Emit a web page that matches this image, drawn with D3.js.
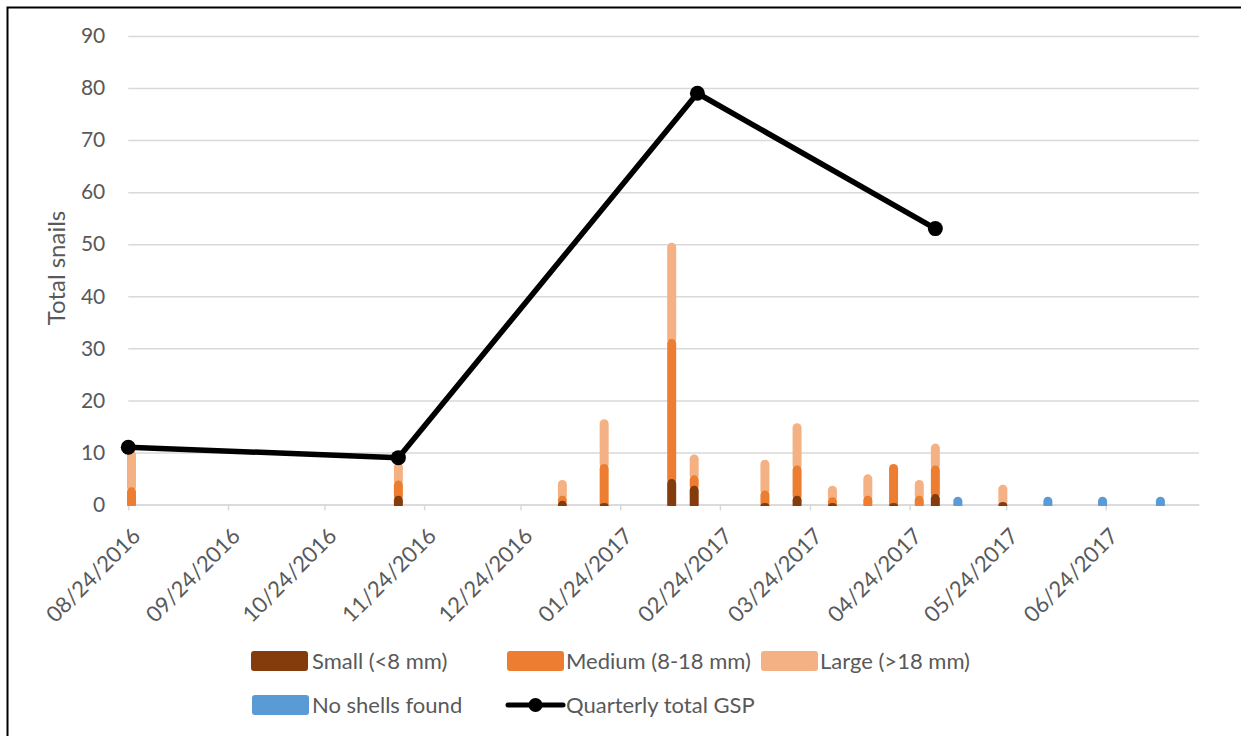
<!DOCTYPE html>
<html>
<head>
<meta charset="utf-8">
<script src="https://cdn.jsdelivr.net/npm/d3@7"></script>
<style>
  html, body { margin: 0; padding: 0; background: #fff; }
  svg { display: block; font-family: Lato, "Open Sans", sans-serif; }
</style>
</head>
<body>
<svg id="chart" width="1241" height="736"></svg>
<script>
// ---------------- DATA ----------------
const sampleDates = ["2016-08-25","2016-11-16","2017-01-06","2017-01-19","2017-02-09","2017-02-16",
                     "2017-03-10","2017-03-20","2017-03-31","2017-04-11","2017-04-19","2017-04-27",
                     "2017-05-02","2017-05-23"];
const smallVals  = [0,   1.7, 0.7, 0.3, 4.9,  3.6, 0.3, 1.7, 0.3, 0,   0.3, 0,   2.0, 0.5];
const mediumVals = [3.3, 2.9, 1.0, 7.5, 26.9, 2.0, 2.4, 5.8, 1.1, 1.7, 7.5, 1.7, 5.5, 0];
const largeVals  = [7.1, 3.5, 3.0, 8.6, 18.5, 4.0, 5.9, 8.1, 2.2, 4.1, 0,   3.0, 4.2, 3.3];

const noShellDates = ["2017-05-09","2017-06-06","2017-06-23","2017-07-11"];
const noShellVals  = [1.5, 1.5, 1.5, 1.5];

const gspDates = ["2016-08-24","2016-11-16","2017-02-17","2017-05-02"];
const gspVals  = [11, 9, 79, 53];

const xTickLabels = ["08/24/2016","09/24/2016","10/24/2016","11/24/2016","12/24/2016","01/24/2017",
                     "02/24/2017","03/24/2017","04/24/2017","05/24/2017","06/24/2017"];
const yTickValues = [0,10,20,30,40,50,60,70,80,90];
const xDomain = ["2016-08-24","2017-07-23"];

const seriesNames  = ["Small (<8 mm)","Medium (8-18 mm)","Large (>18 mm)","No shells found","Quarterly total GSP"];
const seriesColors = ["#843C0C","#ED7D31","#F4B183","#5B9BD5","#000000"];

// ---------------- SETUP ----------------
const parse = d3.timeParse("%Y-%m-%d");
const parseTick = d3.timeParse("%m/%d/%Y");
const svg = d3.select("#chart");
const textColor = "#595959";
const gridColor = "#D9D9D9";

const pLeft = 128.3, pRight = 1199, pTop = 36, pBottom = 504.5;
const x = d3.scaleTime().domain(xDomain.map(parse)).range([pLeft, pRight]);
const y = d3.scaleLinear().domain([0, 90]).range([pBottom, pTop]);

// outer frame
svg.append("rect").attr("x", 7.5).attr("y", 7.5).attr("width", 1300).attr("height", 800)
  .attr("fill", "none").attr("stroke", "#000").attr("stroke-width", 2);

// Y axis with gridlines
const yAxis = svg.append("g").attr("transform", `translate(${pLeft},0)`)
  .call(d3.axisLeft(y).tickValues(yTickValues).tickSize(-(pRight - pLeft)).tickPadding(23));
yAxis.select(".domain").remove();
yAxis.selectAll("line").attr("stroke", gridColor).attr("stroke-width", 1.5);
yAxis.selectAll("text").attr("fill", textColor).style("font-size", "21px")
  .style("font-family", "Lato, sans-serif");

// X axis
const xAxis = svg.append("g").attr("transform", `translate(0,${pBottom})`)
  .call(d3.axisBottom(x).tickValues(xTickLabels.map(parseTick))
    .tickFormat(d3.timeFormat("%m/%d/%Y")).tickSize(6).tickSizeOuter(0));
xAxis.select(".domain").attr("stroke", gridColor).attr("stroke-width", 1.5);
xAxis.selectAll("line").attr("stroke", gridColor).attr("stroke-width", 1.5);
xAxis.selectAll("text")
  .attr("fill", textColor).style("font-size", "22px").style("font-family", "Lato, sans-serif")
  .attr("text-anchor", "end").attr("dy", null).attr("y", null)
  .attr("transform", "translate(13,33) rotate(-45)");

// Y title
svg.append("text").attr("transform", `translate(65,268) rotate(-90)`)
  .attr("text-anchor", "middle").attr("fill", textColor)
  .style("font-size", "24px").text("Total snails");

// ---------------- BARS ----------------
svg.append("clipPath").attr("id", "barclip").append("rect")
  .attr("x", 0).attr("y", 0).attr("width", 1241).attr("height", pBottom + 1.5);

const barW = 9, r = 4.5;
const barsG = svg.append("g").attr("clip-path", "url(#barclip)");

const barData = sampleDates.map((d, i) => ({
  date: parse(d), small: smallVals[i], medium: mediumVals[i], large: largeVals[i]
}));

barData.forEach(d => {
  const segs = [
    {b: 0, t: d.small, c: seriesColors[0]},
    {b: d.small, t: d.small + d.medium, c: seriesColors[1]},
    {b: d.small + d.medium, t: d.small + d.medium + d.large, c: seriesColors[2]}
  ].filter(s => s.t > s.b).reverse();
  const cx = x(d.date);
  segs.forEach(s => {
    barsG.append("rect")
      .attr("x", cx - barW / 2).attr("width", barW)
      .attr("y", y(s.t)).attr("height", y(s.b) + r - y(s.t))
      .attr("rx", r).attr("ry", r).attr("fill", s.c);
  });
});

noShellDates.forEach((d, i) => {
  const cx = x(parse(d));
  barsG.append("rect")
    .attr("x", cx - barW / 2).attr("width", barW)
    .attr("y", y(noShellVals[i])).attr("height", y(0) + r - y(noShellVals[i]))
    .attr("rx", r).attr("ry", r).attr("fill", seriesColors[3]);
});

// ---------------- LINE ----------------
const gspData = gspDates.map((d, i) => ({date: parse(d), v: gspVals[i]}));
svg.append("path").datum(gspData)
  .attr("d", d3.line().x(d => x(d.date)).y(d => y(d.v)))
  .attr("fill", "none").attr("stroke", "#000").attr("stroke-width", 5.5)
  .attr("stroke-linejoin", "round");
svg.selectAll("circle.gsp").data(gspData).join("circle").attr("class", "gsp")
  .attr("cx", d => x(d.date)).attr("cy", d => y(d.v)).attr("r", 7.5).attr("fill", "#000");

// ---------------- LEGEND ----------------
const legendItems = [
  {name: seriesNames[0], color: seriesColors[0], sx: 251, tx: 312, cy: 661, type: "box"},
  {name: seriesNames[1], color: seriesColors[1], sx: 507, tx: 566, cy: 661, type: "box"},
  {name: seriesNames[2], color: seriesColors[2], sx: 761, tx: 820, cy: 661, type: "box"},
  {name: seriesNames[3], color: seriesColors[3], sx: 252, tx: 312, cy: 705, type: "box"},
  {name: seriesNames[4], color: seriesColors[4], sx: 508, tx: 566, cy: 705, type: "line"}
];
const lg = svg.append("g");
legendItems.forEach(it => {
  if (it.type === "box") {
    lg.append("rect").attr("x", it.sx).attr("y", it.cy - 10).attr("width", 57).attr("height", 20)
      .attr("rx", 3).attr("fill", it.color);
  } else {
    lg.append("line").attr("x1", it.sx).attr("x2", it.sx + 55).attr("y1", it.cy).attr("y2", it.cy)
      .attr("stroke", it.color).attr("stroke-width", 5).attr("stroke-linecap", "round");
    lg.append("circle").attr("cx", it.sx + 27.5).attr("cy", it.cy).attr("r", 7).attr("fill", it.color);
  }
  lg.append("text").attr("x", it.tx).attr("y", it.cy).attr("dy", "0.35em")
    .attr("fill", textColor).style("font-size", "22px").text(it.name);
});
</script>
</body>
</html>
